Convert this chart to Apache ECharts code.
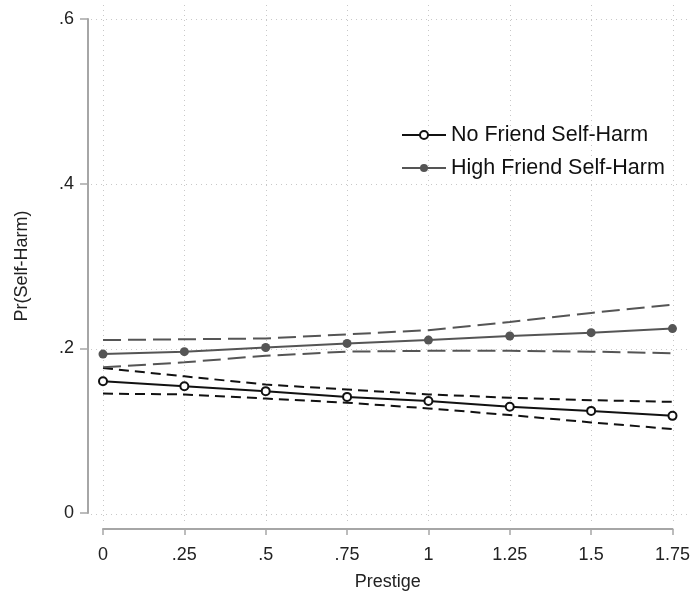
<!DOCTYPE html>
<html>
<head>
<meta charset="utf-8">
<script src="https://cdn.jsdelivr.net/npm/echarts@6/dist/echarts.min.js"></script>
<style>html,body{margin:0;padding:0;background:#fff}#c{width:693px;height:596px}</style>
</head>
<body>
<div id="c"></div>
<script>
var prestige = [0, 0.25, 0.5, 0.75, 1, 1.25, 1.5, 1.75];
var xTicks = [0, 0.25, 0.5, 0.75, 1, 1.25, 1.5, 1.75];
var yTicks = [0, 0.2, 0.4, 0.6];
var noFriend   = [0.160, 0.154, 0.148, 0.141, 0.136, 0.129, 0.124, 0.118];
var noFriendUp = [0.176, 0.166, 0.156, 0.150, 0.144, 0.140, 0.137, 0.135];
var noFriendLo = [0.145, 0.144, 0.139, 0.134, 0.127, 0.119, 0.110, 0.102];
var highFriend   = [0.193, 0.196, 0.201, 0.206, 0.210, 0.215, 0.219, 0.224];
var highFriendUp = [0.210, 0.211, 0.212, 0.217, 0.222, 0.232, 0.243, 0.253];
var highFriendLo = [0.177, 0.183, 0.191, 0.196, 0.197, 0.197, 0.196, 0.194];

function pairs(ys){ return prestige.map(function(x,i){ return [x, ys[i]]; }); }
function fmt(v){ var s = String(+v.toFixed(2)); return s.replace(/^0\./, '.'); }

var FONT = '"Liberation Sans", Arial, sans-serif';
var BLACK = '#111111', GRAY = '#555555', AXIS = '#a6a6a6', GRID = '#c8c8c8';

var chart = echarts.init(document.getElementById('c'), null, {renderer:'canvas'});
chart.setOption({
  animation: false,
  backgroundColor: '#ffffff',
  grid: [
    {left:103, right:20, top:19, bottom:82},
    {left:103, right:20, top:5, bottom:71},
    {left:91, right:5, top:19, bottom:82}
  ],
  xAxis: [
    {gridIndex:0, type:'value', position:'bottom', min:0, max:1.75, interval:0.25, offset:16,
     name:'Prestige', nameLocation:'middle', nameGap:44,
     nameTextStyle:{fontFamily:FONT, fontSize:18, color:'#222'},
     axisLine:{show:true, onZero:false, lineStyle:{color:AXIS, width:2}},
     axisTick:{show:true, length:6, lineStyle:{color:AXIS, width:1.5}},
     axisLabel:{fontFamily:FONT, fontSize:18, color:'#222', margin:17, formatter:fmt},
     splitLine:{show:false}},
    {gridIndex:1, type:'value', min:0, max:1.75, interval:0.25,
     axisLine:{show:false}, axisTick:{show:false}, axisLabel:{show:false},
     splitLine:{show:true, lineStyle:{color:GRID, type:[1,4], width:1}}},
    {gridIndex:2, type:'value', min:0, max:1, show:false}
  ],
  yAxis: [
    {gridIndex:0, type:'value', position:'left', min:0, max:0.6, interval:0.2, offset:15,
     name:'Pr(Self-Harm)', nameLocation:'middle', nameGap:57,
     nameTextStyle:{fontFamily:FONT, fontSize:18, color:'#222'},
     axisLine:{show:true, onZero:false, lineStyle:{color:AXIS, width:2}},
     axisTick:{show:true, length:8, lineStyle:{color:AXIS, width:1.5}},
     axisLabel:{fontFamily:FONT, fontSize:18, color:'#222', margin:14, formatter:fmt},
     splitLine:{show:false}},
    {gridIndex:1, type:'value', min:0, max:1, show:false},
    {gridIndex:2, type:'value', min:0, max:0.6, interval:0.2,
     axisLine:{show:false}, axisTick:{show:false}, axisLabel:{show:false},
     splitLine:{show:true, lineStyle:{color:GRID, type:[1,4], width:1}}}
  ],
  legend: {
    orient:'vertical', left:396, top:119, itemWidth:44, itemHeight:10, itemGap:11,
    textStyle:{fontFamily:FONT, fontSize:21.5, color:'#111'},
    data:['No Friend Self-Harm','High Friend Self-Harm']
  },
  series: [
    {name:'No Friend Self-Harm CI upper', type:'line', data:pairs(noFriendUp), symbol:'none',
     lineStyle:{color:BLACK, width:2, type:[10,6]}, z:2},
    {name:'No Friend Self-Harm CI lower', type:'line', data:pairs(noFriendLo), symbol:'none',
     lineStyle:{color:BLACK, width:2, type:[10,6]}, z:2},
    {name:'High Friend Self-Harm CI upper', type:'line', data:pairs(highFriendUp), symbol:'none',
     lineStyle:{color:GRAY, width:2, type:[18,7]}, z:2},
    {name:'High Friend Self-Harm CI lower', type:'line', data:pairs(highFriendLo), symbol:'none',
     lineStyle:{color:GRAY, width:2, type:[18,7]}, z:2},
    {name:'No Friend Self-Harm', type:'line', data:pairs(noFriend), symbol:'circle', symbolSize:8,
     showAllSymbol:true, lineStyle:{color:BLACK, width:2}, color:BLACK,
     itemStyle:{color:'#ffffff', borderColor:BLACK, borderWidth:2}, z:3},
    {name:'High Friend Self-Harm', type:'line', data:pairs(highFriend), symbol:'circle', symbolSize:9,
     showAllSymbol:true, lineStyle:{color:GRAY, width:2}, color:GRAY,
     itemStyle:{color:GRAY, borderColor:GRAY, borderWidth:0}, z:3}
  ]
});
</script>
</body>
</html>
